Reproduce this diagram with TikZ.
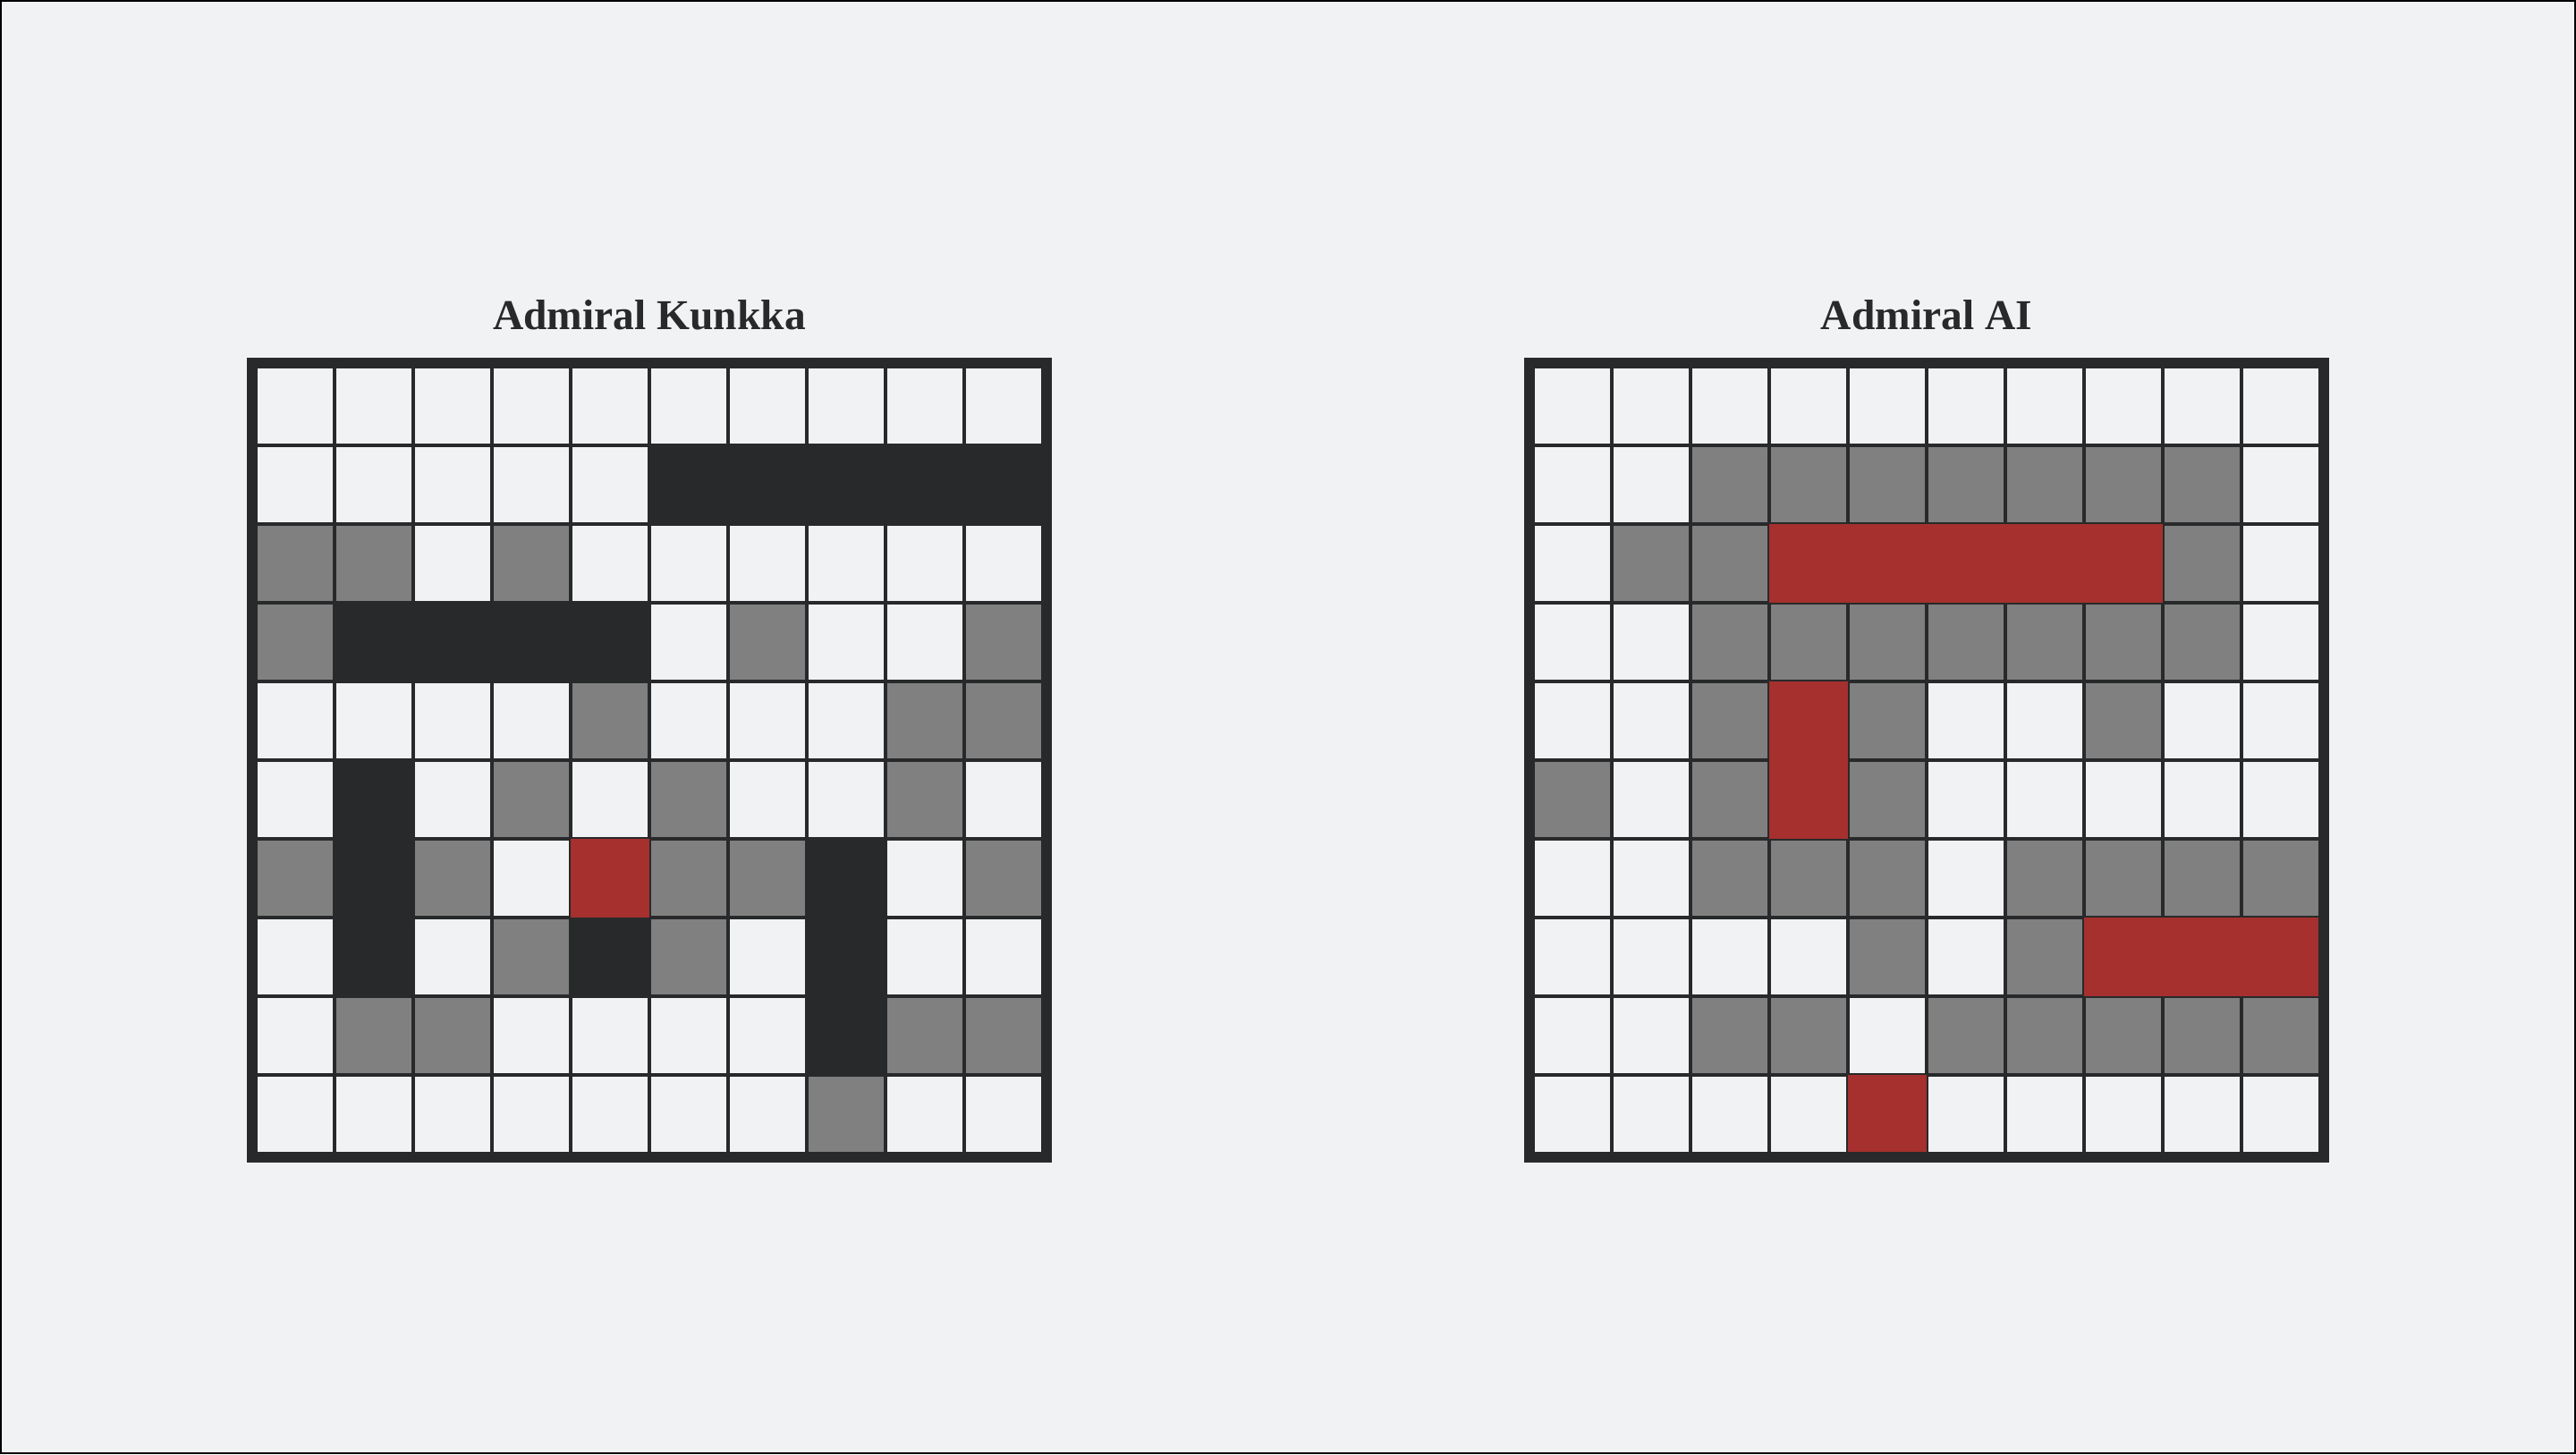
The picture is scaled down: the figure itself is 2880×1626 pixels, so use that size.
\documentclass[tikz,border=0pt]{standalone}
\usepackage{fontspec}
\setmainfont{Liberation Serif}
\definecolor{bgc}{HTML}{F1F2F4}
\definecolor{ink}{HTML}{28292B}
\definecolor{missgray}{HTML}{808080}
\definecolor{shipred}{HTML}{A5302D}
\tikzset{
  cellbox/.style={fill=bgc, draw=ink, line width=4pt},
  missbox/.style={fill=missgray, draw=ink, line width=4pt},
  blackship/.style={fill=ink, draw=ink, line width=4pt},
  gridframe/.style={draw=ink, line width=12pt},
  titletext/.style={font=\bfseries\fontsize{47.5}{54}\selectfont, text=ink, anchor=base, inner sep=0pt},
}
% cell helpers (inside a grid scope, cell (c,r))
\newcommand{\mycell}[3]{\draw[#1] ({10+88*#2},{10+88*#3}) rectangle ++(88,88);}
\newcommand{\myblack}[4]{\draw[blackship] ({10+88*#1},{10+88*#2}) rectangle ({98+88*#3},{98+88*#4});}
\newcommand{\myred}[4]{%
  \fill[ink] ({8+88*#1},{8+88*#2}) rectangle ({100+88*#3},{100+88*#4});
  \fill[shipred] ({10+88*#1},{10+88*#2}) rectangle ({98+88*#3},{98+88*#4});}
\begin{document}
\begin{tikzpicture}[x=1pt,y=-1pt]
\useasboundingbox (0,0) rectangle (2880,1626);
\fill[bgc] (0,0) rectangle (2880,1626);
\draw[black, line width=2pt] (1,1) rectangle (2879,1625);

% ---------- Left grid: Admiral Kunkka ----------
\begin{scope}[shift={(276,400)}]
  \node[titletext] (ltitle) at (450,-32) {Admiral Kunkka};
  \foreach \r in {0,...,9} \foreach \c in {0,...,9} {\mycell{cellbox}{\c}{\r}}
  \foreach \c/\r in {0/2,1/2,3/2, 0/3,6/3,9/3, 4/4,8/4,9/4, 3/5,5/5,8/5,
                     0/6,2/6,5/6,6/6,9/6, 3/7,5/7, 1/8,2/8,8/8,9/8, 7/9}
    {\mycell{missbox}{\c}{\r}}
  \myblack{5}{1}{9}{1}
  \myblack{1}{3}{4}{3}
  \myblack{1}{5}{1}{7}
  \myblack{7}{6}{7}{8}
  \myblack{4}{7}{4}{7}
  \myred{4}{6}{4}{6}
  \draw[gridframe] (6,6) rectangle (894,894);
\end{scope}

% ---------- Right grid: Admiral AI ----------
\begin{scope}[shift={(1704,400)}]
  \node[titletext] (rtitle) at (450,-32) {Admiral AI};
  \foreach \r in {0,...,9} \foreach \c in {0,...,9} {\mycell{cellbox}{\c}{\r}}
  \foreach \c/\r in {2/1,3/1,4/1,5/1,6/1,7/1,8/1,
                     1/2,2/2,8/2,
                     2/3,3/3,4/3,5/3,6/3,7/3,8/3,
                     2/4,4/4,7/4,
                     0/5,2/5,4/5,
                     2/6,3/6,4/6,6/6,7/6,8/6,9/6,
                     4/7,6/7,
                     2/8,3/8,5/8,6/8,7/8,8/8,9/8}
    {\mycell{missbox}{\c}{\r}}
  \myred{3}{2}{7}{2}
  \myred{3}{4}{3}{5}
  \myred{7}{7}{9}{7}
  \myred{4}{9}{4}{9}
  \draw[gridframe] (6,6) rectangle (894,894);
\end{scope}
\end{tikzpicture}
\end{document}
